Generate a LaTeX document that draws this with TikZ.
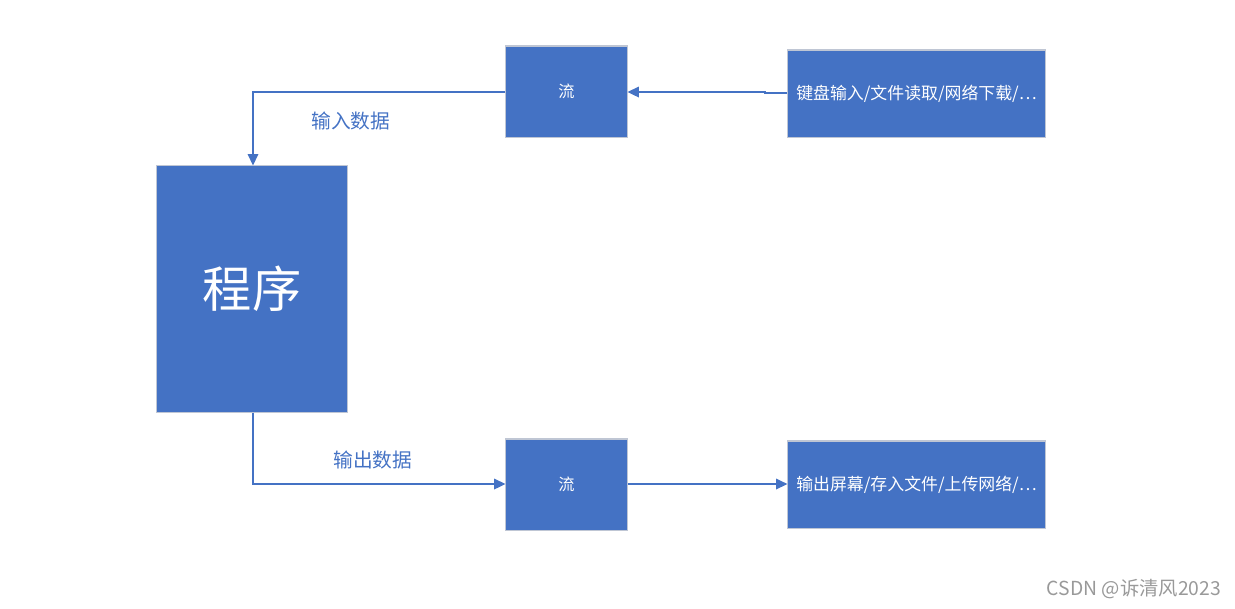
\documentclass[tikz,border=0pt]{standalone}
\usepackage{fontspec}
\setmainfont{Noto Sans CJK SC}
\usetikzlibrary{arrows.meta}
\definecolor{boxblue}{HTML}{4472C4}
\definecolor{edgegrey}{HTML}{BFC6D4}
\begin{document}
\begin{tikzpicture}[x=0.01cm,y=-0.01cm,
  bluebox/.style={draw=edgegrey,line width=0.3pt,fill=boxblue,text=white,inner sep=0pt},
  flowbox/.style={bluebox,minimum width=1.21cm,minimum height=0.91cm,font=\fontsize{4.6pt}{5pt}\selectfont},
  endbox/.style={bluebox,minimum width=2.57cm,minimum height=0.87cm,font=\fontsize{4.8pt}{5pt}\selectfont},
  conn/.style={draw=boxblue,line width=0.45pt},
  tip/.style={-{Triangle[length=3.2pt,width=3pt]}},
  lbl/.style={text=boxblue,font=\fontsize{5.6pt}{6pt}\selectfont}]
\useasboundingbox (0,0) rectangle (1235,608);
\node[bluebox,minimum width=1.90cm,minimum height=2.46cm,font=\fontsize{14pt}{16pt}\selectfont] (prog) at (252,289) {程序};
\node[flowbox] (flowin) at (566.5,91.5) {流};
\node[endbox] (src) at (916.5,93.5) {键盘输入/文件读取/网络下载/⋯};
\node[flowbox] (flowout) at (566.5,484.5) {流};
\node[endbox] (dst) at (916.5,484.5) {输出屏幕/存入文件/上传网络/⋯};
\coordinate (tl) at (253,92);
\coordinate (bl) at (253,484);
\coordinate (jog) at (765,93);
\draw[conn,tip] (src.west |- jog) -- (jog) -- ++(0,-1) -- (flowin.east |- tl);
\draw[conn,tip] (flowin.west |- tl) -- (tl) -- (prog.north -| tl);
\draw[conn,tip] (prog.south -| bl) -- (bl) -- (flowout.west |- bl);
\draw[conn,tip] (flowout.east |- bl) -- (dst.west |- bl);
\node[lbl] (lin) at (351,121) {输入数据};
\node[lbl] (lout) at (373,460) {输出数据};
\node[text=black!40,font=\fontsize{5.5pt}{6pt}\selectfont] (wm) at (1134,589) {CSDN @诉清风2023};
\end{tikzpicture}
\end{document}
